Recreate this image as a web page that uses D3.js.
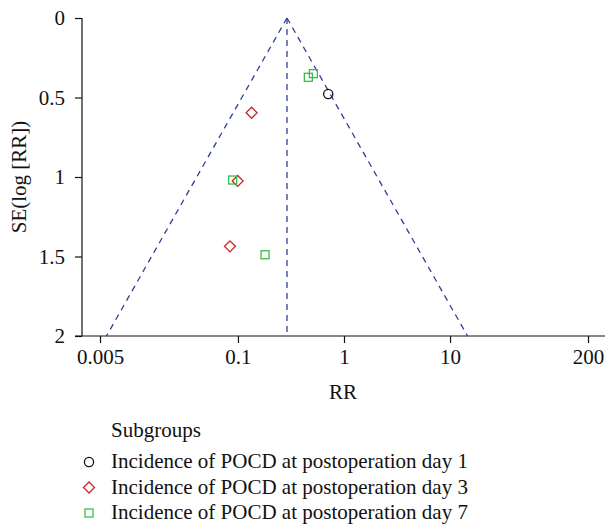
<!DOCTYPE html>
<html>
<head>
<meta charset="utf-8">
<script src="https://cdn.jsdelivr.net/npm/d3@7"></script>
<style>
  body { margin: 0; background: #fff; }
  svg text { font-family: "Liberation Serif", "DejaVu Serif", serif; fill: #111; }
</style>
</head>
<body>
<svg id="chart" width="605" height="526"></svg>
<script>
// pooled estimate of the funnel
var pooledRR = 0.29;

// studies, per subgroup
var day1RR = [0.71];
var day1SE = [0.478];
var day3RR = [0.1345, 0.0993, 0.0841];
var day3SE = [0.596, 1.025, 1.436];
var day7RR = [0.514, 0.461, 0.0891, 0.180];
var day7SE = [0.350, 0.373, 1.019, 1.489];

var xTicks = [0.005, 0.1, 1, 10, 200];
var yTicks = [0, 0.5, 1, 1.5, 2];
var subgroups = ["Incidence of POCD at postoperation day 1",
                 "Incidence of POCD at postoperation day 3",
                 "Incidence of POCD at postoperation day 7"];

var svg = d3.select("#chart");
var blue = "#2f3f9a", red = "#c8262c", green = "#3dba4a";
var fs = "21px";

var x = d3.scaleLog().domain([0.005, 200]).range([100, 588]);
var y = d3.scaleLinear().domain([0, 2]).range([18, 336]);
var left = 82, right = 605;

// axes
var xAxis = svg.append("g").attr("transform", "translate(0,336)")
  .call(d3.axisBottom(x).tickValues(xTicks).tickFormat(d3.format("")).tickSizeOuter(0).tickSize(7).tickPadding(6));
xAxis.select(".domain").remove();
xAxis.append("line").attr("x1", left - 7).attr("x2", right).attr("stroke", "#111").attr("stroke-width", 1.2);

var yAxis = svg.append("g").attr("transform", "translate(" + left + ",0)")
  .call(d3.axisLeft(y).tickValues(yTicks).tickFormat(d3.format("")).tickSizeOuter(0).tickSize(7).tickPadding(10));
yAxis.select(".domain").remove();
yAxis.append("line").attr("y1", y(0)).attr("y2", y(2)).attr("stroke", "#111").attr("stroke-width", 1.2);

svg.selectAll(".tick line").attr("stroke", "#111").attr("stroke-width", 1.2);
svg.selectAll(".tick text").style("font-size", fs).attr("fill", "#111");

// funnel lines
var lnP = Math.log(pooledRR);
var funnel = [
  [[pooledRR, 0], [Math.exp(lnP - 1.96 * 2), 2]],
  [[pooledRR, 0], [Math.exp(lnP + 1.96 * 2), 2]],
  [[pooledRR, 0], [pooledRR, 2]]
];
svg.selectAll(".funnel").data(funnel).enter().append("line")
  .attr("class", "funnel")
  .attr("x1", function(d) { return x(d[0][0]); })
  .attr("y1", function(d) { return y(d[0][1]); })
  .attr("x2", function(d) { return x(d[1][0]); })
  .attr("y2", function(d) { return y(d[1][1]); })
  .attr("stroke", blue).attr("stroke-width", 1.3)
  .attr("stroke-dasharray", "6,5");

// points
function pts(rr, se) { return rr.map(function(v, i) { return {rr: v, se: se[i]}; }); }

svg.selectAll(".d1").data(pts(day1RR, day1SE)).enter().append("circle")
  .attr("cx", function(d) { return x(d.rr); })
  .attr("cy", function(d) { return y(d.se); })
  .attr("r", 4.6).attr("fill", "none").attr("stroke", "#111").attr("stroke-width", 1.3);

var diamond = d3.symbol().type(d3.symbolSquare).size(60);
svg.selectAll(".d3").data(pts(day3RR, day3SE)).enter().append("path")
  .attr("d", diamond)
  .attr("transform", function(d) { return "translate(" + x(d.rr) + "," + y(d.se) + ") rotate(45)"; })
  .attr("fill", "none").attr("stroke", red).attr("stroke-width", 1.3);

svg.selectAll(".d7").data(pts(day7RR, day7SE)).enter().append("rect")
  .attr("x", function(d) { return x(d.rr) - 4; })
  .attr("y", function(d) { return y(d.se) - 4; })
  .attr("width", 8).attr("height", 8)
  .attr("fill", "none").attr("stroke", green).attr("stroke-width", 1.3);

// axis titles
svg.append("text").attr("x", 343).attr("y", 399).attr("text-anchor", "middle")
  .style("font-size", fs).text("RR");
svg.append("text").attr("transform", "translate(26,177) rotate(-90)").attr("text-anchor", "middle")
  .style("font-size", fs).text("SE(log [RR])");

// legend
svg.append("text").attr("x", 111).attr("y", 437).style("font-size", fs).text("Subgroups");
var lg = svg.selectAll(".lg").data(subgroups).enter().append("g")
  .attr("transform", function(d, i) { return "translate(0," + (468 + i * 25.5) + ")"; });
lg.append("text").attr("x", 111).attr("y", 0).style("font-size", fs).text(function(d) { return d; });
lg.filter(function(d, i) { return i == 0; }).append("circle")
  .attr("cx", 89).attr("cy", -6).attr("r", 4.6).attr("fill", "none").attr("stroke", "#111").attr("stroke-width", 1.3);
lg.filter(function(d, i) { return i == 1; }).append("path")
  .attr("d", diamond).attr("transform", "translate(89,-6) rotate(45)")
  .attr("fill", "none").attr("stroke", red).attr("stroke-width", 1.3);
lg.filter(function(d, i) { return i == 2; }).append("rect")
  .attr("x", 85).attr("y", -10).attr("width", 8).attr("height", 8)
  .attr("fill", "none").attr("stroke", green).attr("stroke-width", 1.3);
</script>
</body>
</html>
